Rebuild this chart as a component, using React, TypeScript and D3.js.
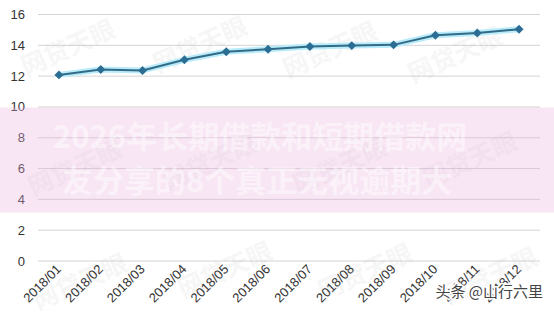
import React from "react";
import * as d3 from "d3";

const months = ["2018/01","2018/02","2018/03","2018/04","2018/05","2018/06","2018/07","2018/08","2018/09","2018/10","2018/11","2018/12"];
const values = [12.08, 12.43, 12.37, 13.06, 13.58, 13.75, 13.92, 13.98, 14.03, 14.65, 14.8, 15.04];
const yTicks = [0, 2, 4, 6, 8, 10, 12, 14, 16];
const overlayLines = ["2026年长期借款和短期借款网", "友分享的8个真正无视逾期大"];
const watermark = "网贷天眼";
const credit = "头条 @山行六里";

const W = 554, H = 323;
const M = { left: 38, right: 14, top: 14.5, bottom: 62 };

export default function App() {
  const x = d3.scaleBand<string>().domain(months).range([M.left, W - M.right]);
  const y = d3.scaleLinear().domain([0, 16]).range([H - M.bottom, M.top]);
  const cx = (m: string) => (x(m) as number) + x.bandwidth() / 2;
  const pts: [number, number][] = months.map((m, i) => [cx(m), y(values[i])]);
  const line = d3.line<[number, number]>()(pts) as string;
  const font = "'Liberation Sans', Arial, sans-serif";
  const marker = d3.symbol(d3.symbolSquare, 40)() as string;

  const wm: [number, number][] = [
    [68, 48], [200, 45], [330, 50], [455, 55],
    [75, 168], [210, 162], [340, 166], [470, 160],
    [80, 282], [225, 270], [365, 272], [490, 276],
  ];

  return (
    <svg width={W} height={H} style={{ position: "fixed", left: 0, top: 0, background: "#fff" }}>
      <rect width={W} height={H} fill="#fff" />
      {yTicks.map((t) => (
        <g key={t}>
          <line x1={M.left} x2={W - M.right} y1={y(t)} y2={y(t)} stroke="#d4d4d4" strokeWidth={1} />
          <text x={25} y={y(t)} dy="0.35em" textAnchor="end" fontSize={13} fill="#333" fontFamily={font}>{t}</text>
        </g>
      ))}
      {months.map((m) => (
        <text key={m} transform={`translate(${cx(m) + 3},${H - M.bottom + 9}) rotate(-45)`} textAnchor="end" fontSize={13} fill="#333" fontFamily={font}>{m}</text>
      ))}
      {wm.map(([wx, wy], i) => (
        <text key={i} transform={`translate(${wx},${wy}) rotate(-24)`} textAnchor="middle" dy="0.35em" fontSize={25} fontWeight="bold" fill="#999" opacity={0.08} fontFamily="'Noto Sans CJK SC', sans-serif">{watermark}</text>
      ))}
      <path d={line} fill="none" stroke="#b8ecfa" strokeWidth={6} strokeLinejoin="round" />
      <path d={line} fill="none" stroke="#336a86" strokeWidth={2} strokeLinejoin="round" />
      {pts.map(([px, py], i) => (
        <path key={i} d={marker} transform={`translate(${px},${py}) rotate(45)`} fill="#2c6e93" />
      ))}
      <rect x={0} y={107.5} width={W} height={105} fill="rgb(236,180,226)" opacity={0.33} />
      {overlayLines.map((s, i) => (
        <text key={i} x={i === 0 ? 53 : 62} y={i === 0 ? 137 : 181} dy="0.35em" fontSize={31} fontWeight="bold" fill="#fff" opacity={0.45} fontFamily="'Noto Sans CJK SC', sans-serif">{s}</text>
      ))}
      <text x={543} y={292} dy="0.35em" textAnchor="end" fontSize={15} fill="#444" stroke="#fff" strokeWidth={3} paintOrder="stroke" fontFamily="'Noto Sans CJK SC', sans-serif">{credit}</text>
    </svg>
  );
}
